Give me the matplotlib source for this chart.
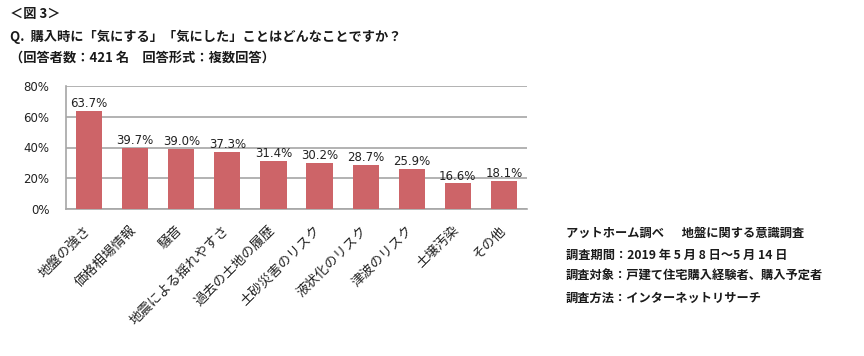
import matplotlib
matplotlib.use("Agg")
import matplotlib.pyplot as plt
import matplotlib.transforms as mtransforms
import numpy as np

plt.rcParams['font.family'] = ['Noto Sans CJK JP', 'DejaVu Sans']

categories = ["地盤の強さ", "価格相場情報", "騒音", "地震による揺れやすさ", "過去の土地の履歴",
              "土砂災害のリスク", "液状化のリスク", "津波のリスク", "土壌汚染", "その他"]
values = [63.7, 39.7, 39.0, 37.3, 31.4, 30.2, 28.7, 25.9, 16.6, 18.1]
yticks = [0, 20, 40, 60, 80]

title_lines = ["＜図 3＞",
               "Q.  購入時に「気にする」「気にした」ことはどんなことですか？",
               "（回答者数：421 名　回答形式：複数回答）"]
note_lines = ["アットホーム調べ　  地盤に関する意識調査",
              "調査期間：2019 年 5 月 8 日～5 月 14 日",
              "調査対象：戸建て住宅購入経験者、購入予定者",
              "調査方法：インターネットリサーチ"]

bar_color = "#CD6468"
grid_color = "#A6A6A6"

fig = plt.figure(figsize=(8.64, 3.56), dpi=100)
ax = fig.add_axes([66 / 864, 1 - 209 / 356, (527 - 66) / 864, (209 - 86) / 356])

x = np.arange(len(categories))
ax.bar(x, values, width=0.57, color=bar_color, zorder=3)
for xi, v in zip(x, values):
    ax.text(xi, v + 0.6, f"{v:.1f}%", ha='center', va='bottom', fontsize=8.5,
            family='DejaVu Sans', color='#222222', zorder=4)

ax.set_xlim(-0.5, len(categories) - 0.5)
ax.set_ylim(0, 80)
ax.set_yticks(yticks)
ax.set_yticklabels([f"{t}%" for t in yticks], family='DejaVu Sans', fontsize=8.5, color='#222222')
ax.yaxis.grid(True, color=grid_color, linewidth=1.2, zorder=0)
ax.tick_params(axis='y', length=0, pad=12)
ax.tick_params(axis='x', length=0, pad=10)
ax.set_xticks(x)
ax.set_xticklabels(categories, rotation=45, ha='right', rotation_mode='anchor',
                   fontsize=9.6, color='#222222')
shift = mtransforms.ScaledTranslation(-6 / 100, 0, fig.dpi_scale_trans)
for lbl in ax.get_xticklabels():
    lbl.set_transform(lbl.get_transform() + shift)
for s in ['top', 'right']:
    ax.spines[s].set_visible(False)
for s in ['left', 'bottom']:
    ax.spines[s].set_color(grid_color)
    ax.spines[s].set_linewidth(1.2)

ty = [14, 37, 58]
for line, y in zip(title_lines, ty):
    fig.text(10 / 864, 1 - y / 356, line, fontsize=9.5, fontweight='bold', va='center',
             ha='left', color='#1a1a1a')

ny = [233, 255, 276, 298]
for line, y in zip(note_lines, ny):
    fig.text(566 / 864, 1 - y / 356, line, fontsize=8.8, fontweight='bold', va='center',
             ha='left', color='#1a1a1a')

fig.savefig("out.png", dpi=100)
